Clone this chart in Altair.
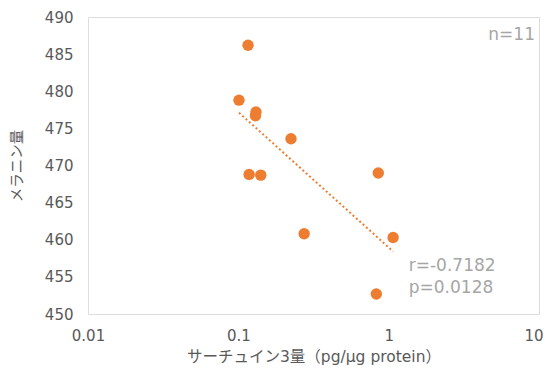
import altair as alt
import pandas as pd

sirt3 = [0.116, 0.101, 0.131, 0.130, 0.118, 0.141, 0.224, 0.274, 1.07, 0.853, 0.828]
melanin = [486.2, 478.8, 477.2, 476.7, 468.8, 468.7, 473.6, 460.8, 460.3, 469.0, 452.7]

ann_text = ["n=11", "r=-0.7182", "p=0.0128"]
ann_x = [9.4, 1.36, 1.36]
ann_y = [487.6, 456.4, 453.5]
ann_align = ["right", "left", "left"]

df = pd.DataFrame({"x": sirt3, "y": melanin})
ann = pd.DataFrame({"t": ann_text, "x": ann_x, "y": ann_y, "a": ann_align})

FONT = "DejaVu Sans, Noto Sans CJK JP"
GRAY = "#595959"
ORANGE = "#ED7D31"

xs = alt.Scale(type="log", domain=[0.01, 10])
ys = alt.Scale(domain=[450, 490], zero=False)

xaxis = alt.Axis(values=[0.01, 0.1, 1, 10], labelExpr="datum.value >= 1 ? format(datum.value, 'd') : format(datum.value, '')",
                 grid=False, ticks=False, domain=False, labelPadding=14, labelFontSize=15,
                 labelFlush=False, labelOverlap=False,
                 labelAlign=alt.ExprRef(expr="datum.value >= 10 ? 'right' : 'center'"),
                 labelOffset=alt.ExprRef(expr="datum.value >= 10 ? 4 : 0"),
                 labelColor=GRAY, labelFont=FONT, title="サーチュイン3量（pg/μg protein）",
                 titleFont=FONT, titleFontSize=15.5, titleColor=GRAY, titleFontWeight="normal", titlePadding=6)
yaxis = alt.Axis(values=list(range(450, 491, 5)), grid=False, ticks=False, domain=False, labelPadding=15,
                 labelFlush=False, labelOverlap=False,
                 labelFontSize=15, labelColor=GRAY, labelFont=FONT, title="メラニン量",
                 titleFont=FONT, titleFontSize=14.5, titleColor=GRAY, titleFontWeight="normal", titlePadding=20)

X = alt.X("x:Q", scale=xs, axis=xaxis)
Y = alt.Y("y:Q", scale=ys, axis=yaxis)

points = alt.Chart(df).mark_circle(size=130, color=ORANGE, opacity=1).encode(x=X, y=Y)

trend = alt.Chart(df).transform_regression("x", "y", method="log").mark_line(
    color=ORANGE, strokeDash=[2, 2.5], strokeWidth=2
).encode(x=X, y=Y)

t_right = alt.Chart(ann[ann.a == "right"]).mark_text(font=FONT, fontSize=17, color="#A6A6A6", baseline="middle", align="right").encode(
    x=X, y=Y, text="t:N")
t_left = alt.Chart(ann[ann.a == "left"]).mark_text(font=FONT, fontSize=17, color="#A6A6A6", baseline="middle", align="left").encode(
    x=X, y=Y, text="t:N")

chart = alt.layer(points, trend, t_right, t_left).properties(
    width=451, height=297,
    autosize=alt.AutoSizeParams(type="none"),
    padding={"left": 80, "top": 9, "right": 4, "bottom": 54},
).configure_view(stroke="#D9D9D9", strokeWidth=1).configure(background="white")

chart.save("out.html", embed_options={"renderer": "svg", "actions": False})
